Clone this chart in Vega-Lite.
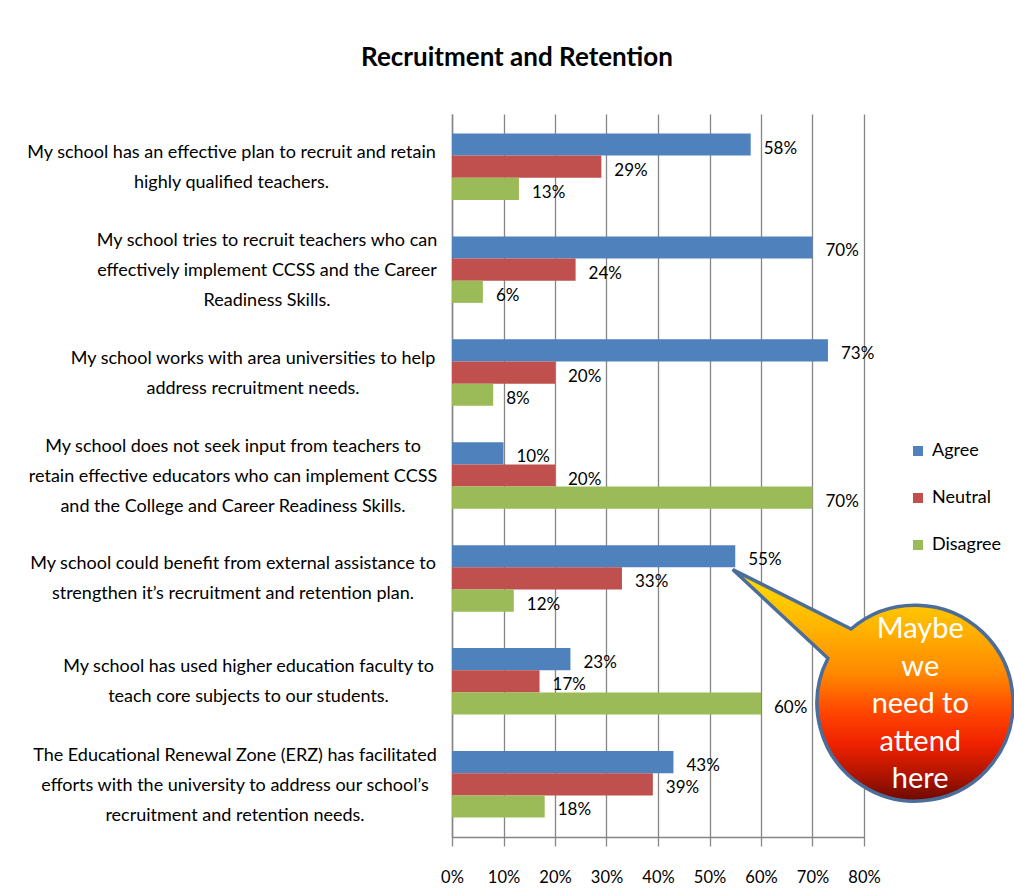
{
  "$schema": "https://vega.github.io/schema/vega-lite/v6.json",
  "width": 412,
  "height": 723,
  "autosize": {"type": "none"},
  "padding": {"left": 452, "top": 114, "right": 150, "bottom": 57},
  "background": "white",
  "config": {"view": {"stroke": null}},
  "title": {
    "text": "Recruitment and Retention",
    "font": "Lato",
    "fontSize": 26,
    "fontWeight": "bold",
    "color": "black",
    "anchor": "middle",
    "frame": "group",
    "dx": -141,
    "offset": 22,
    "baseline": "alphabetic"
  },
  "data": {
    "values": [
      {"item": "My school has an effective plan to recruit and retain\nhighly qualified teachers.", "response": "Agree", "share": 0.58},
      {"item": "My school has an effective plan to recruit and retain\nhighly qualified teachers.", "response": "Neutral", "share": 0.29},
      {"item": "My school has an effective plan to recruit and retain\nhighly qualified teachers.", "response": "Disagree", "share": 0.13},
      {"item": "My school tries to recruit teachers who can\neffectively implement CCSS and the Career\nReadiness Skills.", "response": "Agree", "share": 0.70},
      {"item": "My school tries to recruit teachers who can\neffectively implement CCSS and the Career\nReadiness Skills.", "response": "Neutral", "share": 0.24},
      {"item": "My school tries to recruit teachers who can\neffectively implement CCSS and the Career\nReadiness Skills.", "response": "Disagree", "share": 0.06},
      {"item": "My school works with area universities to help\naddress recruitment needs.", "response": "Agree", "share": 0.73},
      {"item": "My school works with area universities to help\naddress recruitment needs.", "response": "Neutral", "share": 0.20},
      {"item": "My school works with area universities to help\naddress recruitment needs.", "response": "Disagree", "share": 0.08},
      {"item": "My school does not seek input from teachers to\nretain effective educators who can implement CCSS\nand the College and Career Readiness Skills.", "response": "Agree", "share": 0.10},
      {"item": "My school does not seek input from teachers to\nretain effective educators who can implement CCSS\nand the College and Career Readiness Skills.", "response": "Neutral", "share": 0.20},
      {"item": "My school does not seek input from teachers to\nretain effective educators who can implement CCSS\nand the College and Career Readiness Skills.", "response": "Disagree", "share": 0.70},
      {"item": "My school could benefit from external assistance to\nstrengthen it’s recruitment and retention plan.", "response": "Agree", "share": 0.55},
      {"item": "My school could benefit from external assistance to\nstrengthen it’s recruitment and retention plan.", "response": "Neutral", "share": 0.33},
      {"item": "My school could benefit from external assistance to\nstrengthen it’s recruitment and retention plan.", "response": "Disagree", "share": 0.12},
      {"item": "My school has used higher education faculty to\nteach core subjects to our students.", "response": "Agree", "share": 0.23},
      {"item": "My school has used higher education faculty to\nteach core subjects to our students.", "response": "Neutral", "share": 0.17},
      {"item": "My school has used higher education faculty to\nteach core subjects to our students.", "response": "Disagree", "share": 0.60},
      {"item": "The Educational Renewal Zone (ERZ) has facilitated\nefforts with the university to address our school’s\nrecruitment and retention needs.", "response": "Agree", "share": 0.43},
      {"item": "The Educational Renewal Zone (ERZ) has facilitated\nefforts with the university to address our school’s\nrecruitment and retention needs.", "response": "Neutral", "share": 0.39},
      {"item": "The Educational Renewal Zone (ERZ) has facilitated\nefforts with the university to address our school’s\nrecruitment and retention needs.", "response": "Disagree", "share": 0.18}
    ]
  },
  "encoding": {
    "y": {
      "field": "item",
      "type": "nominal",
      "sort": null,
      "scale": {"paddingInner": 0.354, "paddingOuter": 0.189},
      "axis": {
        "title": null,
        "domain": true,
        "domainColor": "#868686",
        "domainWidth": 1.5,
        "ticks": false,
        "tickSize": 0,
        "grid": false,
        "labelExpr": "split(datum.label, '\\n')",
        "labelFont": "Lato",
        "labelFontSize": 18,
        "labelColor": "black",
        "labelAlign": "center",
        "labelBaseline": "middle",
        "labelLineHeight": 30,
        "labelLimit": 600,
        "labelOffset": {
          "condition": [
            {"test": "indexof(datum.value, 'tries to') >= 0", "value": -29},
            {"test": "indexof(datum.value, 'does not seek') >= 0", "value": -29},
            {"test": "indexof(datum.value, 'ERZ') >= 0", "value": -28}
          ],
          "value": -14
        },
        "labelPadding": {
          "condition": [
            {"test": "indexof(datum.value, 'highly') >= 0", "value": 221},
            {"test": "indexof(datum.value, 'tries to') >= 0", "value": 185.5},
            {"test": "indexof(datum.value, 'area universities') >= 0", "value": 199.5},
            {"test": "indexof(datum.value, 'does not seek') >= 0", "value": 219.5},
            {"test": "indexof(datum.value, 'could benefit') >= 0", "value": 219.5},
            {"test": "indexof(datum.value, 'higher education') >= 0", "value": 204},
            {"test": "indexof(datum.value, 'ERZ') >= 0", "value": 217.5}
          ],
          "value": 215
        }
      }
    },
    "yOffset": {
      "field": "response",
      "type": "nominal",
      "sort": ["Agree", "Neutral", "Disagree"],
      "scale": {"paddingInner": 0, "paddingOuter": 0}
    },
    "x": {
      "field": "share",
      "type": "quantitative",
      "scale": {"domain": [0, 0.8], "nice": false, "zero": true},
      "axis": {
        "title": null,
        "values": [0, 0.1, 0.2, 0.3, 0.4, 0.5, 0.6, 0.7, 0.8],
        "format": ".0%",
        "grid": true,
        "gridColor": "#868686",
        "gridWidth": 1.3,
        "domainColor": "#868686",
        "domainWidth": 1.5,
        "tickColor": "#868686",
        "tickWidth": 1.3,
        "tickSize": 9,
        "labelFont": "Lato",
        "labelFontSize": 16.5,
        "labelColor": "black",
        "labelBaseline": "middle",
        "labelPadding": 31,
        "labelFlush": false,
        "labelOverlap": false
      }
    }
  },
  "layer": [
    {
      "mark": {"type": "bar"},
      "encoding": {
        "color": {
          "field": "response",
          "type": "nominal",
          "scale": {"domain": ["Agree", "Neutral", "Disagree"], "range": ["#4f81bd", "#c0504d", "#9bbb59"]},
          "legend": {
            "orient": "none",
            "legendX": 457,
            "legendY": 328,
            "title": null,
            "symbolType": "square",
            "symbolSize": 100,
            "symbolStrokeWidth": 0,
            "labelFont": "Lato",
            "labelFontSize": 18,
            "labelColor": "black",
            "rowPadding": 29,
            "labelOffset": 5,
            "padding": 0
          }
        }
      }
    },
    {
      "mark": {"type": "text", "align": "left", "baseline": "middle", "dx": 13, "dy": 4, "font": "Lato", "fontSize": 17, "color": "black"},
      "encoding": {"text": {"field": "share", "type": "quantitative", "format": ".0%"}}
    },
    {
      "data": {"values": [
        {"item": "My school could benefit from external assistance to\nstrengthen it’s recruitment and retention plan.", "response": "Agree", "share": 0.55, "note": "Maybe\nwe\nneed to\nattend\nhere"}
      ]},
      "mark": {
        "type": "point",
        "shape": "M -0.025 0.133 L 1.158 0.727 A 0.98 0.98 0 1 1 0.927 1.02 Z",
        "size": 40000,
        "filled": true,
        "opacity": 1,
        "fillOpacity": 1,
        "fill": {
          "gradient": "linear",
          "x1": 0, "y1": 0, "x2": 0, "y2": 1,
          "stops": [
            {"offset": 0, "color": "#ffe000"},
            {"offset": 0.25, "color": "#ffb400"},
            {"offset": 0.45, "color": "#ff8800"},
            {"offset": 0.62, "color": "#ff4400"},
            {"offset": 0.75, "color": "#f02200"},
            {"offset": 0.88, "color": "#b41400"},
            {"offset": 1, "color": "#6a0a00"}
          ]
        },
        "stroke": "#4a6d9a",
        "strokeWidth": 3.5
      }
    },
    {
      "data": {"values": [
        {"item": "My school could benefit from external assistance to\nstrengthen it’s recruitment and retention plan.", "response": "Agree", "share": 0.55, "note": "Maybe\nwe\nneed to\nattend\nhere"}
      ]},
      "mark": {"type": "text", "lineBreak": "\n", "align": "center", "baseline": "middle", "dx": 185, "dy": 73, "font": "Lato", "fontSize": 29, "lineHeight": 37.5, "color": "white"},
      "encoding": {"text": {"field": "note", "type": "nominal"}}
    }
  ]
}
